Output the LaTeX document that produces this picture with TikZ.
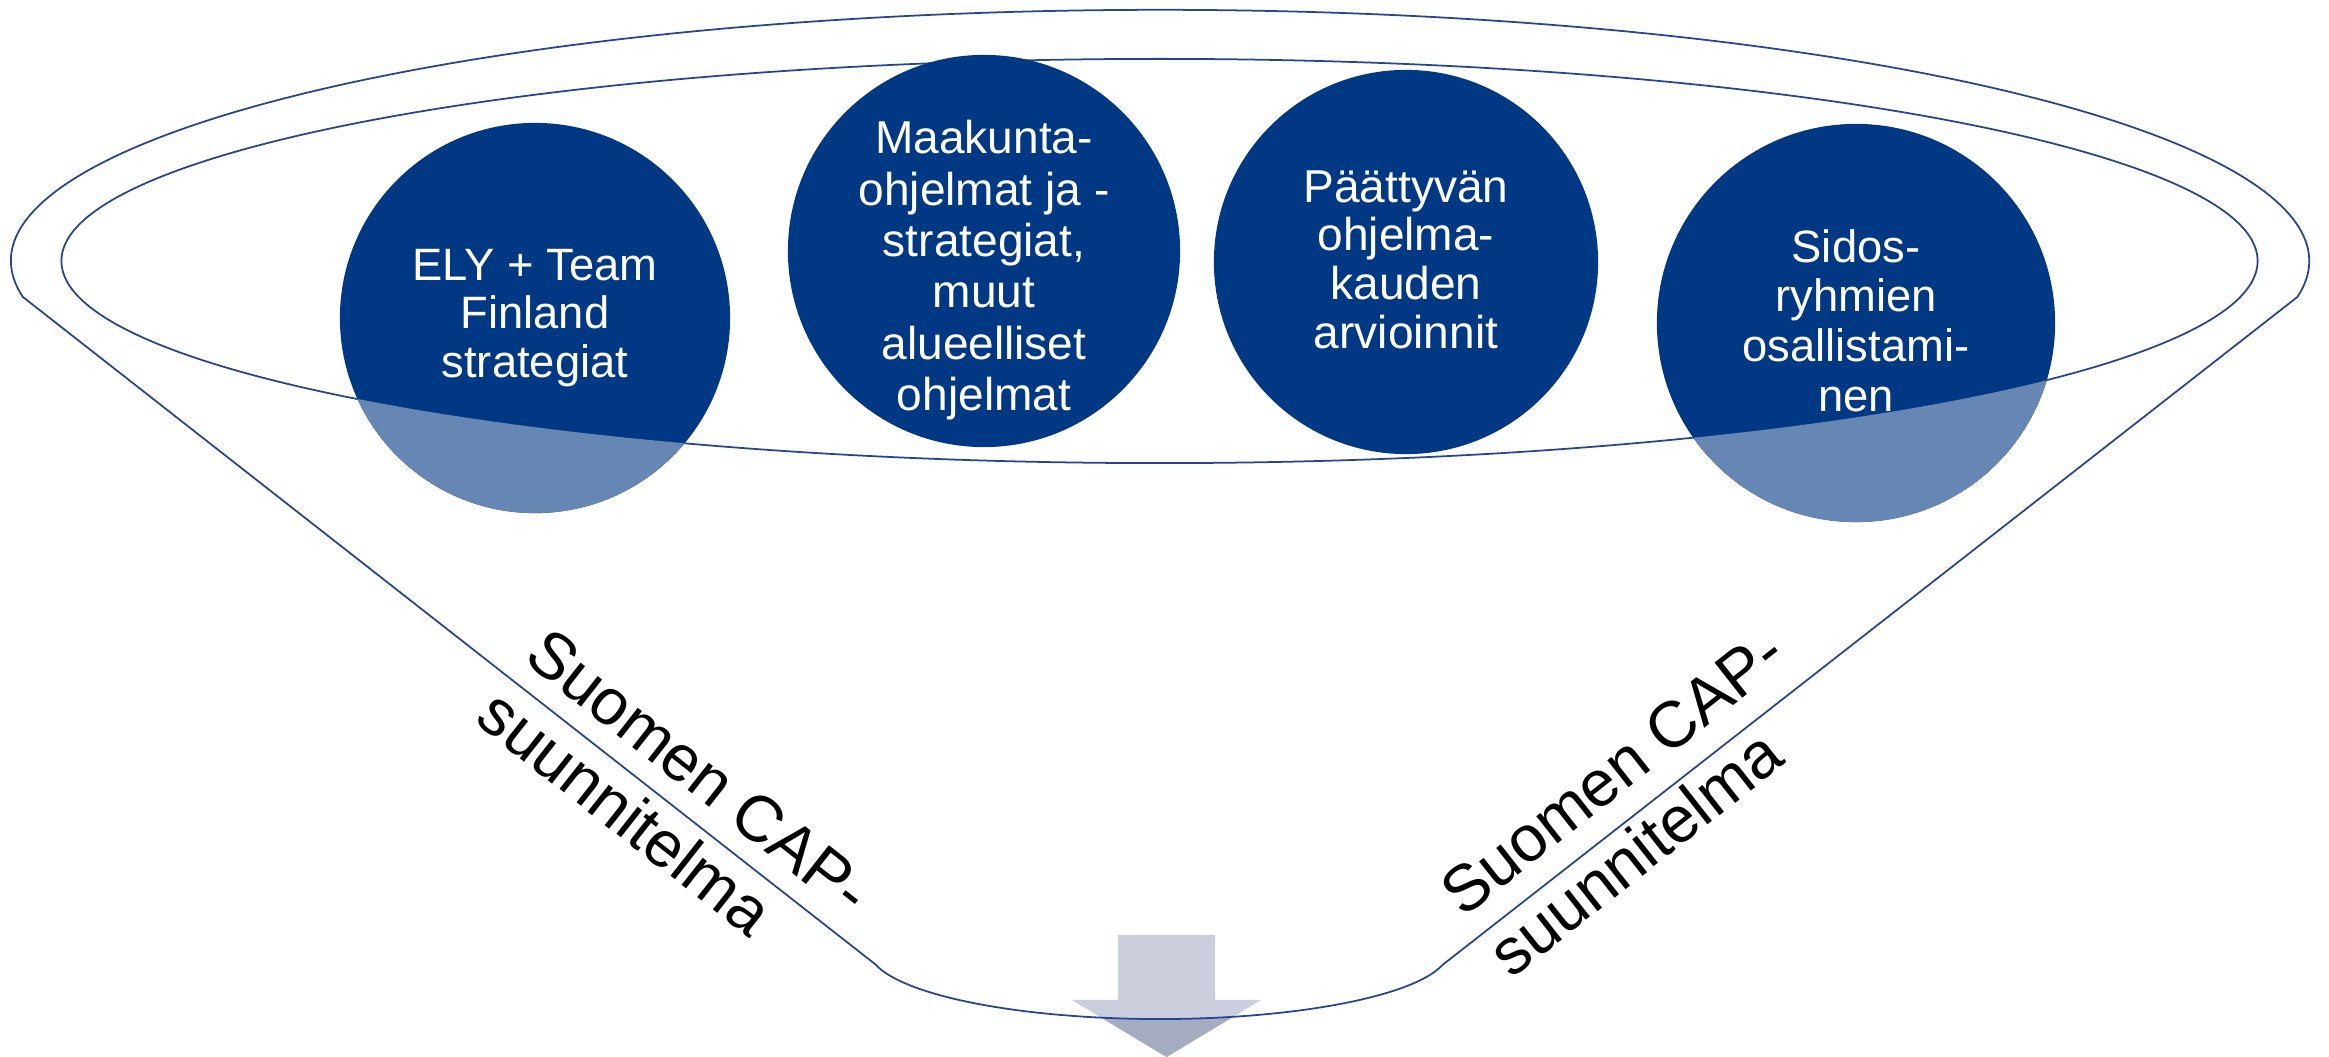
\documentclass[tikz,border=0pt]{standalone}
\usepackage{fontspec}
\setmainfont{Liberation Sans}
\definecolor{navy}{RGB}{0,56,131}
\definecolor{navylight}{RGB}{102,135,180}
\definecolor{funnelline}{RGB}{38,68,145}
\definecolor{arrowlight}{RGB}{203,206,220}
\definecolor{arrowdark}{RGB}{166,172,192}
\tikzset{
  circtext/.style={text=white, align=center, inner sep=0pt, font=\fontsize{12.9}{14.3}\selectfont},
  sidetext/.style={text=black, align=left, inner sep=0pt, font=\fontsize{18.5}{22.2}\selectfont},
  outline/.style={draw=funnelline, line width=0.5pt},
  bubble/.style={circle, fill=navy, inner sep=0pt},
}
\newcommand{\myarrowpath}{(1118,122) -- (1215,122) -- (1215,57) -- (1261,57) -- (arrtip) -- (1072,57) -- (1118,57) -- cycle}
\begin{document}
\begin{tikzpicture}[x=0.01cm,y=0.01cm]
\useasboundingbox (0,0) rectangle (2329,1057);
% arrow
\coordinate (arrtip) at (1166.5,0);
\fill[arrowlight] \myarrowpath;
\begin{scope}
  \clip (876.1,92.4) arc[start angle=-167.8,end angle=-12.2,x radius=2.9cm,y radius=0.69cm] -- (1442.9,-20) -- (876.1,-20) -- cycle;
  \fill[arrowdark] \myarrowpath;
\end{scope}
% funnel outline
\draw[outline] (22.9,760) arc[start angle=188.25,end angle=-8.25,x radius=11.485cm,y radius=2.51cm]
  -- (1442.9,92.4) arc[start angle=-12.2,end angle=-167.8,x radius=2.9cm,y radius=0.69cm] -- cycle;
% inner ellipse
\draw[outline] (1159.5,796) ellipse[x radius=10.975cm, y radius=2.02cm];
% circles
\node[bubble, minimum size=3.90cm] (c1) at (535,739) {};
\node[bubble, minimum size=3.92cm] (c2) at (984,806) {};
\node[bubble, minimum size=3.84cm] (c3) at (1406,795) {};
\node[bubble, minimum size=3.98cm] (c4) at (1856,734) {};
\begin{scope}
  \clip (62,796) arc[start angle=180,end angle=360,x radius=10.975cm,y radius=2.02cm] -- (2400,796) -- (2400,-100) -- (-100,-100) -- (-100,796) -- cycle;
  \fill[navylight] (c1.center) circle[radius=1.95cm];
  \fill[navylight] (c2.center) circle[radius=1.96cm];
  \fill[navylight] (c3.center) circle[radius=1.92cm];
  \fill[navylight] (c4.center) circle[radius=1.99cm];
\end{scope}
% circle texts
\node[circtext, font=\fontsize{12.9}{13.75}\selectfont] (t1) at (535,738.9) {ELY + Team\\Finland\\strategiat};
\node[circtext, font=\fontsize{13.1}{14.6}\selectfont] (t2) at (984,786.6) {Maakunta-\\ohjelmat ja -\\strategiat,\\muut\\alueelliset\\ohjelmat};
\node[circtext, font=\fontsize{13.1}{13.85}\selectfont] (t3) at (1406,797.3) {Päättyvän\\ohjelma-\\kauden\\arvioinnit};
\node[circtext, font=\fontsize{12.9}{14.15}\selectfont] (t4) at (1856,736.5) {Sidos-\\ryhmien\\osallistami-\\nen};
% side labels
\node[sidetext, rotate=-38.2] (lab1) at (675.2,254.8) {Suomen CAP-\\suunnitelma};
\node[sidetext, rotate=38.2] (lab2) at (1637,254.4) {Suomen CAP-\\suunnitelma};
\end{tikzpicture}
\end{document}
